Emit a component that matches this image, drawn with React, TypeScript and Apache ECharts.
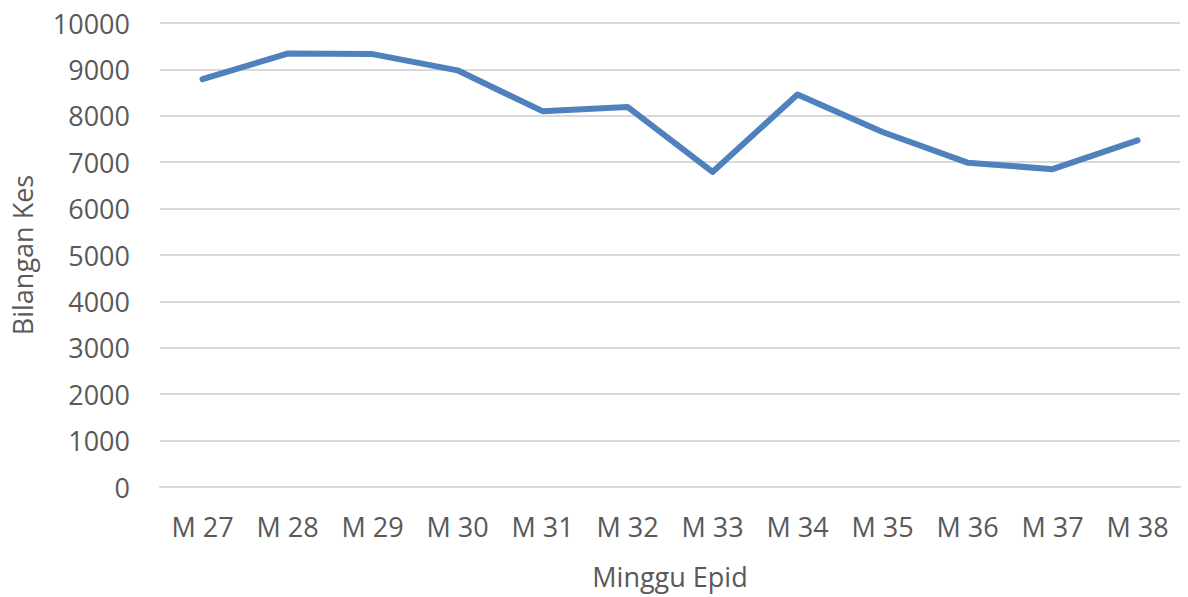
import React, { useEffect, useRef } from "react";
import * as echarts from "echarts";

const categories = ["M 27", "M 28", "M 29", "M 30", "M 31", "M 32", "M 33", "M 34", "M 35", "M 36", "M 37", "M 38"];
const cases = [8790, 9340, 9330, 8980, 8100, 8190, 6790, 8460, 7650, 6990, 6850, 7470];
const yTicks = { min: 0, max: 10000, interval: 1000 };

export default function App() {
  const ref = useRef<HTMLDivElement>(null);
  useEffect(() => {
    if (!ref.current) return;
    const chart = echarts.init(ref.current, null, { renderer: "svg" });
    const font = "'Open Sans', sans-serif";
    chart.setOption({
      animation: false,
      backgroundColor: "#ffffff",
      grid: { left: 160, right: 8, top: 23, bottom: 110, containLabel: false, outerBoundsMode: "none" },
      xAxis: {
        type: "category",
        data: categories,
        boundaryGap: true,
        name: "Minggu Epid",
        nameLocation: "middle",
        nameGap: 76,
        nameTextStyle: { color: "#595959", fontSize: 27, fontFamily: font },
        axisLine: { show: true, lineStyle: { color: "#d9d9d9", width: 2 } },
        axisTick: { show: false },
        axisLabel: { color: "#595959", fontSize: 27, fontFamily: font, margin: 26 },
      },
      yAxis: {
        type: "value",
        min: yTicks.min,
        max: yTicks.max,
        interval: yTicks.interval,
        name: "Bilangan Kes",
        nameLocation: "middle",
        nameGap: 124,
        nameTextStyle: { color: "#595959", fontSize: 27, fontFamily: font },
        axisLine: { show: false },
        axisTick: { show: false },
        axisLabel: { color: "#595959", fontSize: 27, fontFamily: font, margin: 30, formatter: (v: number) => String(v) },
        splitLine: { lineStyle: { color: "#d9d9d9", width: 2 } },
      },
      series: [
        {
          type: "line",
          data: cases,
          symbol: "none",
          lineStyle: { color: "#4f81bd", width: 6, cap: "round", join: "round" },
        },
      ],
    });
    return () => chart.dispose();
  }, []);
  return <div ref={ref} style={{ width: 1188, height: 597, position: "absolute", left: 0, top: 0 }} />;
}
